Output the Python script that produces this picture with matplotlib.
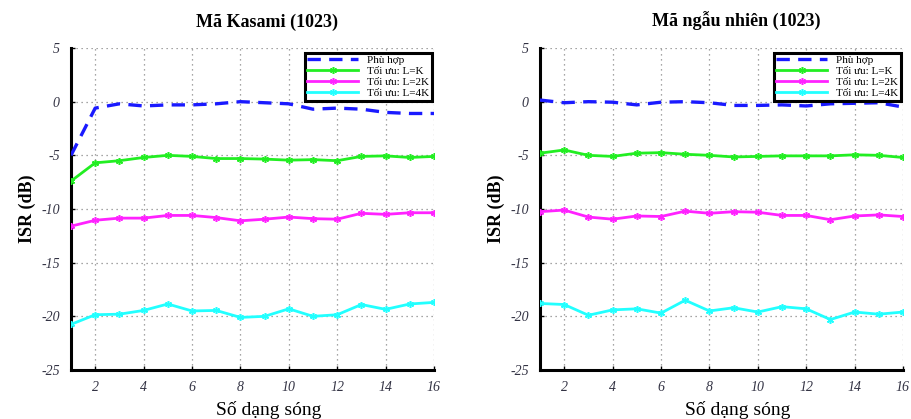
import matplotlib
matplotlib.use("Agg")
import matplotlib.pyplot as plt

plt.rcParams["axes.unicode_minus"] = False

x = list(range(1, 17))

# Left panel: Kasami code (1023)
kas_match = [-5.0, -0.6, -0.2, -0.4, -0.3, -0.3, -0.2, 0.0, -0.1, -0.2, -0.7, -0.6, -0.7, -1.0, -1.1, -1.1]
kas_L1 = [-7.4, -5.7, -5.5, -5.2, -5.0, -5.1, -5.3, -5.3, -5.35, -5.45, -5.4, -5.5, -5.1, -5.05, -5.2, -5.1]
kas_L2 = [-11.6, -11.05, -10.85, -10.85, -10.6, -10.6, -10.8, -11.1, -10.95, -10.75, -10.9, -10.95, -10.4, -10.5, -10.35, -10.35]
kas_L4 = [-20.75, -19.85, -19.8, -19.45, -18.85, -19.5, -19.45, -20.1, -20.0, -19.3, -20.0, -19.85, -18.9, -19.35, -18.85, -18.7]

# Right panel: random code (1023)
rnd_match = [0.15, -0.1, 0.0, -0.05, -0.3, -0.05, 0.0, -0.1, -0.35, -0.35, -0.3, -0.4, -0.2, -0.15, -0.1, -0.5]
rnd_L1 = [-4.8, -4.5, -5.0, -5.1, -4.8, -4.75, -4.9, -5.0, -5.15, -5.1, -5.05, -5.05, -5.05, -4.95, -5.0, -5.2]
rnd_L2 = [-10.25, -10.1, -10.75, -10.95, -10.65, -10.7, -10.2, -10.4, -10.25, -10.3, -10.6, -10.6, -11.0, -10.65, -10.55, -10.7]
rnd_L4 = [-18.8, -18.9, -19.9, -19.4, -19.3, -19.7, -18.5, -19.5, -19.2, -19.6, -19.1, -19.3, -20.3, -19.6, -19.8, -19.6]

titles = ["Mã Kasami (1023)", "Mã ngẫu nhiên (1023)"]
labels = ["Phù hợp", "Tối ưu: L=K", "Tối ưu: L=2K", "Tối ưu: L=4K"]
xticks = [2, 4, 6, 8, 10, 12, 14, 16]
yticks = [5, 0, -5, -10, -15, -20, -25]

serif = ["Liberation Serif", "DejaVu Serif"]

fig = plt.figure(figsize=(9.12, 4.19), dpi=100)
positions = [[71/912, 1-370/419, 363/912, 322/419],
             [540/912, 1-370/419, 363/912, 322/419]]
panels = [(kas_match, kas_L1, kas_L2, kas_L4), (rnd_match, rnd_L1, rnd_L2, rnd_L4)]

for i, (pos, data) in enumerate(zip(positions, panels)):
    ax = fig.add_axes(pos)
    m, l1, l2, l4 = data
    ax.plot(x, m, color="#1a1aff", lw=2.4, ls=(0, (4, 2.5)), label=labels[0], zorder=3)
    mk = dict(marker=(6, 2, 0), markersize=5, markeredgewidth=1.1, lw=2.0, zorder=3)
    ax.plot(x, l1, color="#22ee22", label=labels[1], **mk)
    ax.plot(x, l2, color="#ff22ff", label=labels[2], **mk)
    ax.plot(x, l4, color="#22ffff", label=labels[3], **mk)
    ax.set_xlim(1, 16)
    ax.set_ylim(-25, 5)
    ax.set_xticks(xticks)
    ax.set_yticks(yticks)
    ax.grid(True, ls=(0, (1, 3)), color="#888888", lw=0.9)
    for s in ["top", "right"]:
        ax.spines[s].set_visible(False)
    for s in ["left", "bottom"]:
        ax.spines[s].set_linewidth(2.2)
        ax.spines[s].set_color("black")
    ax.tick_params(direction="in", length=3, width=1, pad=8)
    for t in ax.get_xticklabels() + ax.get_yticklabels():
        t.set_family(serif)
        t.set_style("italic")
        t.set_fontsize(10)
        t.set_color("#333344")
    ax.set_title(titles[i], fontfamily=serif, fontweight="bold", fontsize=13, x=0.54, pad=15)
    ax.set_xlabel("Số dạng sóng", fontfamily=serif, fontsize=14, labelpad=5, x=0.545)
    ax.set_ylabel("ISR (dB)", fontfamily=serif, fontweight="bold", fontsize=13, labelpad=4)
    leg = ax.legend(loc="upper right", bbox_to_anchor=(0.995, 0.985), prop={"family": serif, "size": 8},
                    handlelength=4.6, borderpad=0.25, labelspacing=0.1, fancybox=False,
                    framealpha=1, edgecolor="black", borderaxespad=0.0, handletextpad=0.8)
    leg.get_frame().set_linewidth(2.2)

fig.savefig("out.png", dpi=100)
